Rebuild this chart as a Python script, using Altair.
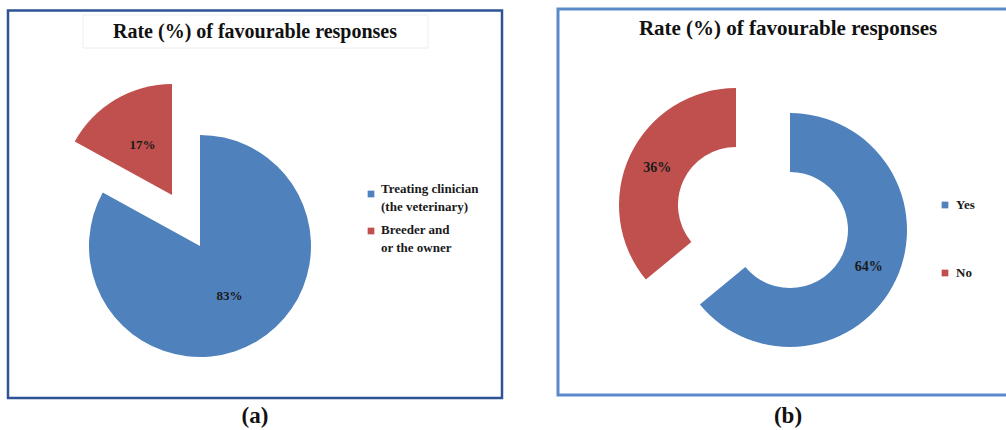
import math
import altair as alt
import pandas as pd

# ---------------- data ----------------
title_text = "Rate (%) of favourable responses"
panel_tags = ["(a)", "(b)"]

a_categories = ["Treating clinician\n(the veterinary)", "Breeder and\nor the owner"]
a_values = [83, 17]

b_categories = ["Yes", "No"]
b_values = [64, 36]

colors = ["#4F81BD", "#C0504D"]

SERIF = "Liberation Serif"


def frame(cats, vals):
    df = pd.DataFrame({"category": cats, "value": vals, "order": list(range(len(cats)))})
    df["end"] = df["value"].cumsum()
    df["start"] = df["end"] - df["value"]
    df["mid"] = (df["start"] + df["end"]) / 2
    df["label"] = df["value"].astype(str) + "%"
    return df


df_a = frame(a_categories, a_values)
df_b = frame(b_categories, b_values)

theta_scale = alt.Scale(domain=[0, 100], range=[0, 2 * math.pi])
one = pd.DataFrame({"k": [0]})


def slice_layers(df, i, cx, cy, outer, label_r, fsize, inner=None):
    base = alt.Chart(df).transform_filter(f"datum.order == {i}")
    arc_kw = dict(outerRadius=outer, color=colors[i])
    if inner is not None:
        arc_kw["innerRadius"] = inner
    arc = base.mark_arc(**arc_kw).encode(
        theta=alt.Theta("start:Q", scale=theta_scale, stack=False),
        theta2="end:Q",
        x=alt.value(cx),
        y=alt.value(cy),
    )
    txt = base.mark_text(
        radius=label_r, font=SERIF, fontWeight="bold", fontSize=fsize, color="#1a1a1a"
    ).encode(
        theta=alt.Theta("mid:Q", scale=theta_scale, stack=False),
        x=alt.value(cx),
        y=alt.value(cy),
        text="label:N",
    )
    return [arc, txt]


def legend_item(df, i, sx, sy, tx, ty, fsize):
    base = alt.Chart(df).transform_filter(f"datum.order == {i}")
    sq = base.mark_square(size=45, color=colors[i], opacity=1).encode(
        x=alt.value(sx), y=alt.value(sy)
    )
    tx_ = base.mark_text(
        font=SERIF, fontWeight="bold", fontSize=fsize, color="#1a1a1a",
        align="left", baseline="middle", lineBreak="\n", lineHeight=18,
    ).encode(x=alt.value(tx), y=alt.value(ty), text="category:N")
    return [sq, tx_]


def box(x1, x2, y1, y2, stroke, sw):
    return alt.Chart(one).mark_rect(fillOpacity=0, stroke=stroke, strokeWidth=sw).encode(
        x=alt.value(x1), x2=alt.value(x2), y=alt.value(y1), y2=alt.value(y2)
    )


def label(text, x, y, size):
    return alt.Chart(one).mark_text(
        font=SERIF, fontWeight="bold", fontSize=size, color="#111111",
        align="center", baseline="middle",
    ).encode(x=alt.value(x), y=alt.value(y), text=alt.value(text))


layers = []
# panel borders
layers.append(box(8, 502, 10.5, 398, "#2E5395", 2.5))
layers.append(box(558, 1012, 9, 395, "#5B8ACB", 3))
# faint title box in (a)
layers.append(box(83, 428, 15, 48, "#eeeeee", 1))

# titles
layers.append(label(title_text, 255, 32, 20))
layers.append(label(title_text, 788, 29, 21))

# pie (a): blue slice in place, red slice exploded
layers += slice_layers(df_a, 0, 200, 246, 111, 58, 13)
layers += slice_layers(df_a, 1, 172, 195, 111, 58, 13)

# donut (b)
layers += slice_layers(df_b, 0, 790, 230, 117, 87, 14, inner=58)
layers += slice_layers(df_b, 1, 736, 205, 117, 87, 14, inner=58)

# legends
layers += legend_item(df_a, 0, 371, 194, 381, 189, 13)
layers += legend_item(df_a, 1, 371, 231, 381, 230, 13)
layers += legend_item(df_b, 0, 945, 205, 956, 205, 13)
layers += legend_item(df_b, 1, 945, 273, 956, 273, 13)

# panel tags
layers.append(label(panel_tags[0], 255, 416, 23))
layers.append(label(panel_tags[1], 788, 416, 23))

chart = (
    alt.layer(*layers)
    .properties(width=1006, height=430, padding=0, autosize=alt.AutoSizeParams(type="none"),
                background="white")
    .configure_view(stroke=None)
)

chart.save("out.html", embed_options={"renderer": "svg", "actions": False})
